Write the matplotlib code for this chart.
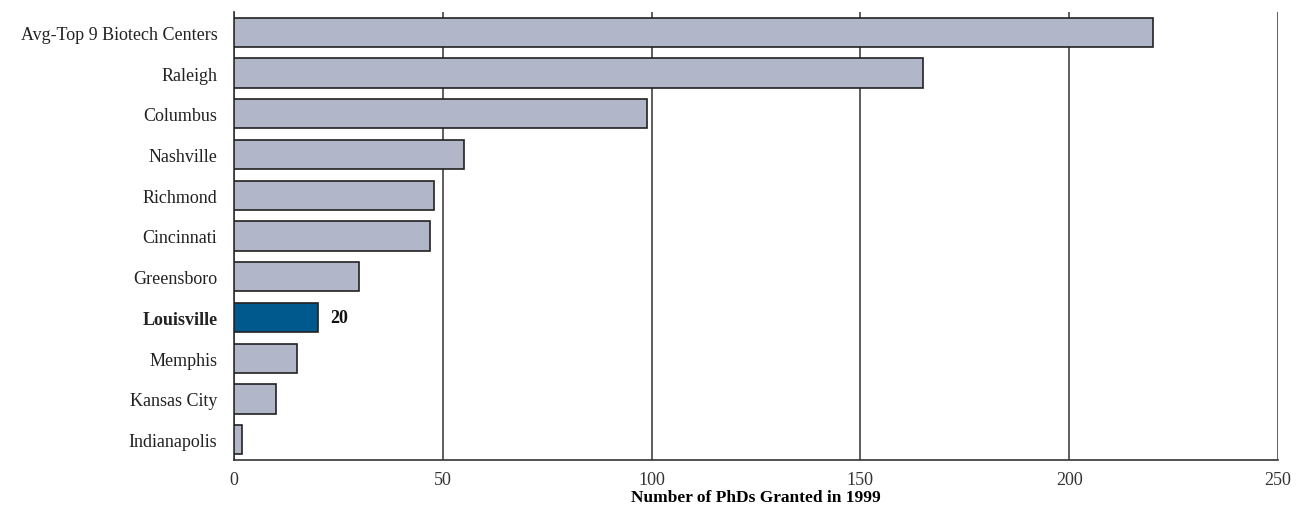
import matplotlib
matplotlib.use("Agg")
import matplotlib.pyplot as plt

categories = ["Avg-Top 9 Biotech Centers", "Raleigh", "Columbus", "Nashville", "Richmond",
              "Cincinnati", "Greensboro", "Louisville", "Memphis", "Kansas City", "Indianapolis"]
values = [220, 165, 99, 55, 48, 47, 30, 20, 15, 10, 2]
highlight = "Louisville"
xticks = [0, 50, 100, 150, 200, 250]
xlabel = "Number of PhDs Granted in 1999"

plt.rcParams['font.family'] = ['Liberation Serif', 'DejaVu Serif']

fig = plt.figure(figsize=(13.04, 5.10), dpi=100)
ax = fig.add_axes([234/1304, 1 - 461/510, (1278-234)/1304, (461-13)/510])

n = len(categories)
ypos = list(range(n))
colors = ["#00598C" if c == highlight else "#B1B7C8" for c in categories]
ax.barh(ypos, values, height=0.72, color=colors, edgecolor="#222222", linewidth=1.2, zorder=3)
ax.set_ylim(n - 0.5, -0.5)
ax.set_xlim(0, 250)
ax.set_xticks(xticks)
ax.set_xticklabels([str(t) for t in xticks], fontsize=13, color="#333333")
ax.set_yticks(ypos)
ax.set_yticklabels(categories, fontsize=13, color="#222222")
for lbl in ax.get_yticklabels():
    if lbl.get_text() == highlight:
        lbl.set_fontweight("bold")
ax.tick_params(axis='x', length=0, pad=8)
ax.tick_params(axis='y', length=0, pad=12)
ax.grid(axis='x', color="#333333", linewidth=1.1, zorder=0)
for s in ["top", "right"]:
    ax.spines[s].set_visible(False)
ax.spines["left"].set_color("#333333")
ax.spines["bottom"].set_color("#333333")
ax.spines["left"].set_linewidth(1.2)
ax.spines["bottom"].set_linewidth(1.2)

for i, (c, v) in enumerate(zip(categories, values)):
    if c == highlight:
        ax.text(v + 3, i, str(v), va='center', ha='left', fontsize=13, fontweight='bold', color="#111111")

ax.set_xlabel(xlabel, fontsize=12.5, fontweight='bold', labelpad=1)

fig.savefig("out.png", dpi=100)
